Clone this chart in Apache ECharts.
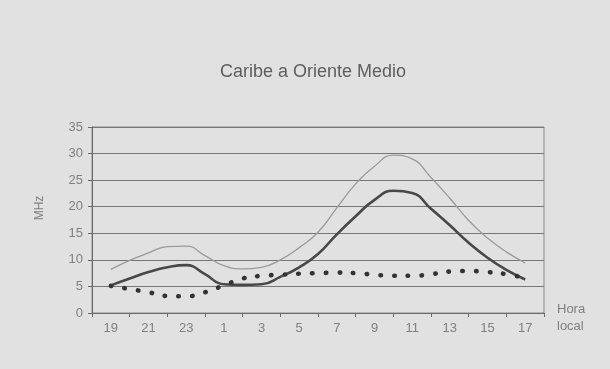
<!DOCTYPE html>
<html>
<head>
<meta charset="utf-8">
<script src="https://cdn.jsdelivr.net/npm/echarts@6/dist/echarts.min.js"></script>
<style>
  html,
  body {
    margin: 0;
    padding: 0;
    background: #e1e1e1;
  }
  .line_charts {
    width: 610px;
    height: 369px;
  }
</style>
</head>
<body>
<div id="main" class="line_charts"></div>
<script>
// etiquetas del eje horizontal (hora local)
var horas = ["19", "21", "23", "1", "3", "5", "7", "9", "11", "13", "15", "17"];
// posicion de cada dato en horas: 19 .. 41 (= 17 del dia siguiente)
var horaX = [19, 20, 21, 22, 23, 24, 25, 26, 27, 28, 29, 30, 31, 32, 33, 34, 35, 36, 37, 38, 39, 40, 41];
// MHz
var fotMax = [8.2, 9.9, 11.3, 12.5, 12.6, 10.8, 8.9, 8.3, 8.6, 10.0, 12.3, 15.2, 19.8, 24.3, 27.6, 29.7, 29.0, 25.5, 21.6, 17.4, 14.1, 11.5, 9.4];
var fotMedia = [5.2, 6.5, 7.7, 8.6, 9.0, 7.3, 5.4, 5.3, 5.4, 6.8, 8.6, 11.1, 14.8, 18.2, 21.3, 23.0, 22.6, 19.6, 16.5, 13.2, 10.4, 8.1, 6.3];
var fotMin = [5.1, 4.5, 3.9, 3.2, 3.15, 3.9, 5.2, 6.5, 7.0, 7.2, 7.4, 7.5, 7.6, 7.5, 7.2, 7.0, 7.0, 7.3, 7.8, 7.9, 7.7, 7.3, 6.6];
var yTicks = [0, 5, 10, 15, 20, 25, 30, 35];

function pares(vals) {
  var out = [];
  for (var i = 0; i < vals.length; i++) {
    out.push([horaX[i], vals[i]]);
  }
  return out;
}

var myChart = echarts.init(document.getElementById("main"));
var gris = "#767676";
var option = {
  backgroundColor: "#e1e1e1",
  textStyle: { fontFamily: "Liberation Sans" },
  title: {
    text: "Caribe a Oriente Medio",
    left: 308,
    textAlign: "center",
    top: 58,
    textStyle: {
      color: "#5e5e5e",
      fontSize: 18,
      fontWeight: "normal",
      fontFamily: "Liberation Sans",
    },
  },
  // nombre del eje x, a la derecha del eje
  graphic: [
    {
      type: "text",
      left: 557,
      top: 301,
      style: {
        text: "Hora\nlocal",
        fill: "#808080",
        fontSize: 13,
        lineHeight: 17,
        fontFamily: "Liberation Sans",
      },
    },
  ],
  grid: {
    left: 92,
    right: 66,
    top: 127,
    bottom: 56,
    show: true,
    borderColor: "#8a8a8a",
    borderWidth: 1,
  },
  xAxis: [
    {
      type: "category",
      data: horas,
      boundaryGap: true,
      axisLine: { lineStyle: { color: "#6a6a6a", width: 1 } },
      axisTick: { show: true, length: 4, lineStyle: { color: "#6a6a6a" } },
      axisLabel: { color: "#808080", fontSize: 13, margin: 9 },
    },
    {
      type: "value",
      min: 18,
      max: 42,
      show: false,
    },
  ],
  yAxis: {
    type: "value",
    min: 0,
    max: 35,
    interval: 5,
    axisLine: { show: true, lineStyle: { color: "#6a6a6a" } },
    axisTick: { show: true, length: 4, lineStyle: { color: "#6a6a6a" } },
    axisLabel: {
      color: "#808080",
      fontSize: 13,
      margin: 9,
      formatter: function (v) {
        return yTicks.indexOf(v) >= 0 ? String(v) : "";
      },
    },
    splitLine: { lineStyle: { color: gris, width: 1.2 } },
    name: "MHz",
    nameLocation: "middle",
    nameRotate: 90,
    nameGap: 46,
    nameTextStyle: { color: "#808080", fontSize: 12, padding: [0, 0, 0, 24] },
  },
  series: [
    {
      name: "max",
      type: "line",
      xAxisIndex: 1,
      smooth: 0.5,
      showSymbol: false,
      data: pares(fotMax),
      lineStyle: { color: "#9a9a9a", width: 1.3 },
    },
    {
      name: "media",
      type: "line",
      xAxisIndex: 1,
      smooth: 0.5,
      showSymbol: false,
      data: pares(fotMedia),
      lineStyle: { color: "#484848", width: 2.6 },
    },
    {
      name: "min",
      type: "line",
      xAxisIndex: 1,
      smooth: 0.5,
      showSymbol: false,
      data: pares(fotMin),
      lineStyle: {
        color: "#333",
        width: 4.6,
        type: [0.5, 13.2],
        cap: "round",
      },
    },
  ],
};
myChart.setOption(option);
</script>
</body>
</html>
